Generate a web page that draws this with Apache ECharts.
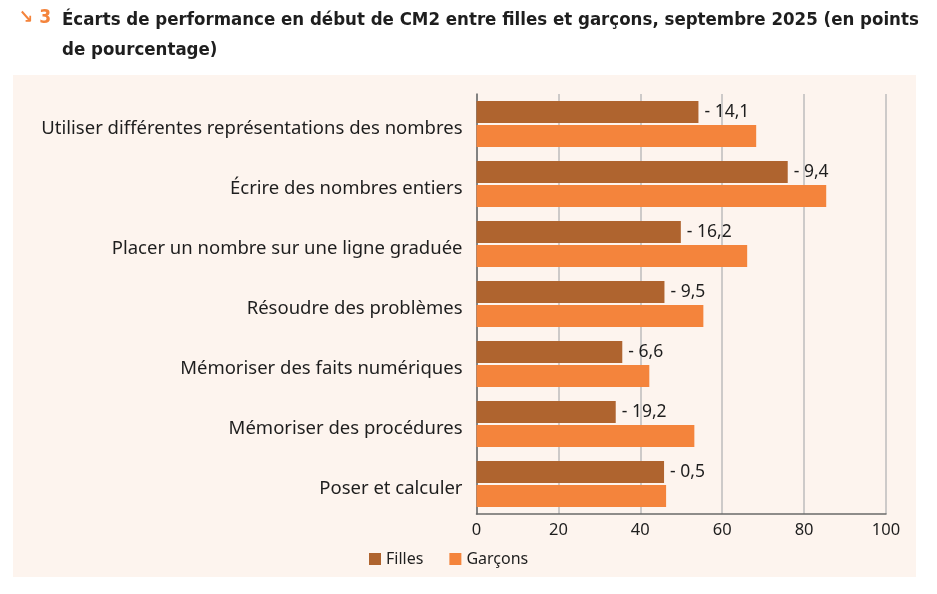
<!DOCTYPE html>
<html>
<head>
<meta charset="utf-8">
<script src="https://cdn.jsdelivr.net/npm/echarts@6/dist/echarts.min.js"></script>
<style>
  html, body { margin: 0; padding: 0; background: #ffffff; }
  #panel { position: absolute; left: 13px; top: 75px; width: 903px; height: 502px; background: #fdf4ee; }
  #main { position: absolute; left: 0; top: 0; width: 937px; height: 594px; }
</style>
</head>
<body>
<div id="panel"></div>
<div id="main"></div>
<script>
// catégories (de haut en bas)
var categories = [
  'Utiliser différentes représentations des nombres',
  'Écrire des nombres entiers',
  'Placer un nombre sur une ligne graduée',
  'Résoudre des problèmes',
  'Mémoriser des faits numériques',
  'Mémoriser des procédures',
  'Poser et calculer'
];
var filles = [54.2, 76.0, 49.9, 45.9, 35.6, 34.0, 45.8];
var garcons = [68.3, 85.4, 66.1, 55.4, 42.2, 53.2, 46.3];
var ecarts = [-14.1, -9.4, -16.2, -9.5, -6.6, -19.2, -0.5];
var xTicks = [0, 20, 40, 60, 80, 100];

var chart = echarts.init(document.getElementById('main'), null, { renderer: 'canvas' });

function fmtEcart(v) {
  return '- ' + Math.abs(v).toFixed(1).replace('.', ',');
}

var titleFont = '"DejaVu Sans Condensed", "DejaVu Sans", sans-serif';

var option = {
  backgroundColor: 'transparent',
  animation: false,
  textStyle: { fontFamily: 'Noto Sans' },
  title: [{
    text: '↘ 3',
    left: 14,
    top: 4,
    textStyle: { color: '#f4843c', fontSize: 19, fontWeight: 'bold', fontFamily: titleFont }
  }, {
    text: 'Écarts de performance en début de CM2 entre filles et garçons, septembre 2025 (en points\nde pourcentage)',
    left: 57,
    top: 0,
    textStyle: { color: '#1e1e1e', fontSize: 18.5, fontWeight: 'bold', lineHeight: 30, fontFamily: titleFont }
  }],
  legend: {
    left: 364,
    top: 546,
    itemWidth: 12,
    itemHeight: 12,
    itemGap: 26,
    icon: 'rect',
    textStyle: { color: '#1e1e1e', fontSize: 16, fontFamily: 'Noto Sans' },
    data: ['Filles', 'Garçons']
  },
  grid: {
    left: 476.5,
    right: 51,
    top: 94,
    bottom: 80
  },
  xAxis: {
    type: 'value',
    min: 0,
    max: 100,
    interval: 20,
    axisLine: { show: true, lineStyle: { color: '#6a6a6a', width: 1.5 } },
    axisTick: { show: false },
    axisLabel: { color: '#1e1e1e', fontSize: 16.5, margin: 8, fontFamily: 'Noto Sans' },
    splitLine: { show: true, lineStyle: { color: '#bdbdbd', width: 1.5 } }
  },
  yAxis: {
    type: 'category',
    inverse: true,
    data: categories,
    axisLine: { show: true, lineStyle: { color: '#6a6a6a', width: 1.5 } },
    axisTick: { show: false },
    axisLabel: {
      color: '#1e1e1e', fontSize: 18.5, margin: 14, fontFamily: 'Noto Sans',
      verticalAlign: 'top', lineHeight: 9
    }
  },
  series: [{
    name: 'Filles',
    type: 'bar',
    barWidth: 22,
    barGap: '9%',
    itemStyle: { color: '#af642f' },
    label: {
      show: true,
      position: 'right',
      distance: 6,
      color: '#1e1e1e',
      fontSize: 17.5,
      fontFamily: 'Noto Sans',
      formatter: function (p) { return fmtEcart(ecarts[p.dataIndex]); }
    },
    data: filles
  }, {
    name: 'Garçons',
    type: 'bar',
    barWidth: 22,
    itemStyle: { color: '#f4843c' },
    data: garcons
  }]
};

chart.setOption(option);
</script>
</body>
</html>
